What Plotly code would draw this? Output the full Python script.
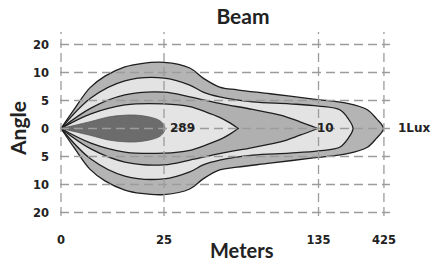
import plotly.graph_objects as go

# ---- tick data ----
x_tick_vals = [0, 100, 250, 313.5]
x_tick_text = ["0", "25", "135", "425"]
y_tick_vals = [3, 2, 1, 0, -1, -2, -3]
y_tick_text = ["20", "10", "5", "0", "5", "10", "20"]

# ---- isolux zones: upper-half outlines (mirrored for lower half) ----
zone_names = ["1Lux", "zone2", "10", "zone4", "289"]

lux1_x = [0, 13.6, 28, 42.7, 62, 78, 100, 125, 138, 154, 171, 203, 245, 278, 297, 306, 313]
lux1_y = [0, 0.73, 1.45, 1.87, 2.2, 2.32, 2.36, 2.16, 1.8, 1.48, 1.38, 1.24, 1.05, 0.9, 0.68, 0.36, 0]

lux2_x = [0, 29, 62, 100, 125, 138, 154, 186, 222, 250, 271, 279, 283.5]
lux2_y = [0, 1.09, 1.7, 1.8, 1.55, 1.3, 1.13, 0.95, 0.88, 0.8, 0.66, 0.34, 0]

lux3_x = [0, 29, 62, 100, 125, 154, 186, 213, 232, 249.5]
lux3_y = [0, 0.73, 1.2, 1.3, 1.13, 0.9, 0.68, 0.48, 0.24, 0]

lux4_x = [0, 29, 62, 100, 125, 140, 154, 164, 172]
lux4_y = [0, 0.52, 0.84, 0.88, 0.78, 0.6, 0.4, 0.2, 0]

lux5_x = [0, 29, 46, 60, 72, 86, 96, 100, 101]
lux5_y = [0, 0.25, 0.41, 0.47, 0.48, 0.41, 0.28, 0.12, 0]

fills = ["#b4b4b4", "#e3e3e3", "#b0b0b0", "#e4e4e4", "#6c6c6c"]
edges = ["#1e1e1e", "#1e1e1e", "#1e1e1e", "#1e1e1e", "#5a5a5a"]
sharp = [False, False, True, True, False]

X_RANGE = [-0.97, 319.4]
Y_RANGE = [-3.125, 3.446]


def closed_outline(ux, uy, sharp_tip):
    tip_x = [ux[-1]] if sharp_tip else []
    tip_y = [0] if sharp_tip else []
    xs = [ux[0]] + ux + tip_x + ux[-2::-1] + [ux[0]]
    ys = [uy[0]] + uy + tip_y + [-v for v in uy[-2::-1]] + [uy[0]]
    return xs, ys


fig = go.Figure()

zones = [(lux1_x, lux1_y), (lux2_x, lux2_y), (lux3_x, lux3_y), (lux4_x, lux4_y), (lux5_x, lux5_y)]
for i, (ux, uy) in enumerate(zones):
    xs, ys = closed_outline(ux, uy, sharp[i])
    fig.add_trace(go.Scatter(
        x=xs, y=ys, mode="lines", fill="toself", fillcolor=fills[i],
        line=dict(color=edges[i], width=1.3 if i < 4 else 0.8, shape="spline", smoothing=1),
        hoverinfo="skip", showlegend=False, name=zone_names[i]))

# dashed grid drawn above the zones
grid_style = dict(color="#9c9c9c", width=1.3, dash="9px,5px")
for xv in x_tick_vals:
    fig.add_trace(go.Scatter(x=[xv, xv], y=Y_RANGE, mode="lines", line=grid_style,
                             hoverinfo="skip", showlegend=False))
for yv in y_tick_vals:
    fig.add_trace(go.Scatter(x=X_RANGE, y=[yv, yv], mode="lines", line=grid_style,
                             hoverinfo="skip", showlegend=False))

label_font = dict(family="DejaVu Sans", size=12, color="#222222", weight="bold")
# zone value labels along the beam axis
fig.add_annotation(x=118, y=0, xref="x", yref="y", text=zone_names[4],
                   showarrow=False, font=label_font, xanchor="center", yanchor="middle")
fig.add_annotation(x=257, y=0, xref="x", yref="y", text=zone_names[2],
                   showarrow=False, font=label_font, xanchor="center", yanchor="middle")
fig.add_annotation(x=(414 - 60) / 330, y=0, xref="paper", yref="y", text=zone_names[0],
                   showarrow=False, font=label_font, xanchor="center", yanchor="middle")

title_font = dict(family="Lato", size=21, color="#222222", weight="bold")
axis_title_font = dict(family="Lato", size=20, color="#222222", weight="bold")
fig.add_annotation(x=(242 - 60) / 330, y=(216 - 250) / 184, xref="paper", yref="paper",
                   text="Meters", showarrow=False, font=axis_title_font,
                   xanchor="center", yanchor="middle")
fig.add_annotation(x=(17 - 60) / 330, y=(216 - 129) / 184, xref="paper", yref="paper",
                   text="Angle", showarrow=False, font=title_font, textangle=-90,
                   xanchor="center", yanchor="middle")

tick_font = dict(family="DejaVu Sans", size=11.5, color="#222222", weight="bold")
fig.update_layout(
    width=435, height=262,
    margin=dict(l=60, r=45, t=32, b=46),
    paper_bgcolor="white", plot_bgcolor="white",
    title=dict(text="Beam", font=title_font, x=243 / 435, xanchor="center",
               y=1 - 17 / 262, yanchor="middle", yref="container"),
    xaxis=dict(range=X_RANGE, tickvals=x_tick_vals, ticktext=x_tick_text,
               showgrid=False, zeroline=False, showline=False, ticks="",
               tickfont=tick_font, ticklabelstandoff=15, fixedrange=True),
    yaxis=dict(range=Y_RANGE, tickvals=y_tick_vals, ticktext=y_tick_text,
               showgrid=False, zeroline=False, showline=False, ticks="",
               tickfont=tick_font, ticklabelstandoff=10, fixedrange=True),
    showlegend=False,
)

fig.write_html(
    "out.html",
    config={"displayModeBar": False},
    post_script="document.body.style.margin='0';document.body.style.overflow='hidden';",
)
